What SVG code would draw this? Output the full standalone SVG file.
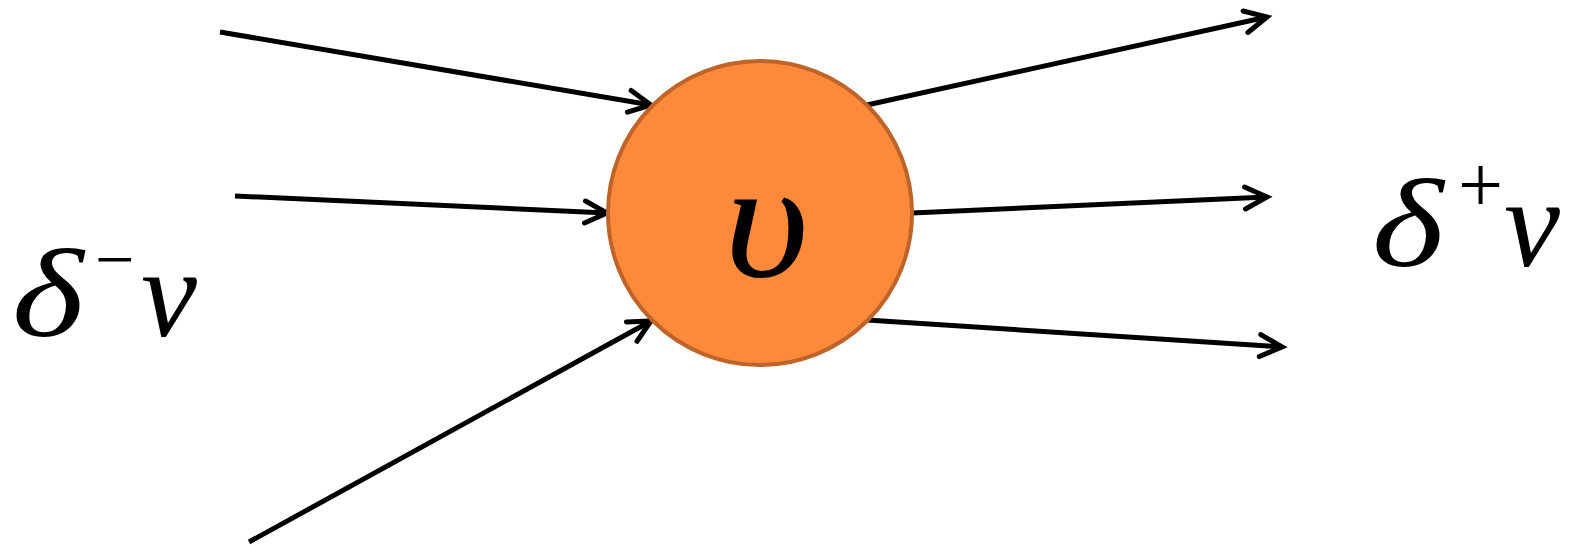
<svg xmlns="http://www.w3.org/2000/svg" width="1576" height="546" viewBox="0 0 1576 546">
<style>
.edge{stroke:#000;stroke-width:5;fill:none;stroke-linecap:butt}
.lbl{font-family:"Liberation Serif","Times New Roman",serif;font-style:italic;fill:#000}
.sup{font-family:"Liberation Serif","Times New Roman",serif;fill:#000}
</style>
<defs>
<marker id="arr" markerUnits="userSpaceOnUse" markerWidth="34" markerHeight="34" viewBox="-28 -17 34 34" refX="0" refY="0" orient="auto">
<path d="M-22,-11 L0,0 L-22,11" fill="none" stroke="#000" stroke-width="5" stroke-linecap="round" stroke-linejoin="miter"/>
</marker>
</defs>
<g id="edges">
<line class="edge" x1="220" y1="32" x2="651" y2="105" marker-end="url(#arr)"/>
<line class="edge" x1="235" y1="196" x2="607" y2="213" marker-end="url(#arr)"/>
<line class="edge" x1="249" y1="542" x2="651" y2="321" marker-end="url(#arr)"/>
<line class="edge" x1="867" y1="105" x2="1267" y2="17" marker-end="url(#arr)"/>
<line class="edge" x1="912" y1="213" x2="1267" y2="197" marker-end="url(#arr)"/>
<line class="edge" x1="867" y1="320" x2="1282" y2="347" marker-end="url(#arr)"/>
</g>
<g id="node-v">
<circle cx="760" cy="213" r="152" fill="#FD8A3A" stroke="#BF6329" stroke-width="4"/>
<text class="lbl" transform="translate(724,276) scale(1.1,1)" x="0" y="0" font-size="168">υ</text>
</g>
<g id="label-in">
<text class="lbl" transform="translate(12,336) scale(1.22,1)" x="0" y="0" font-size="126">δ</text>
<text class="sup" x="95" y="283" font-size="70">−</text>
<text class="lbl" x="141" y="336" font-size="126">ν</text>
</g>
<g id="label-out">
<text class="lbl" transform="translate(1372,266) scale(1.22,1)" x="0" y="0" font-size="126">δ</text>
<text class="sup" x="1458" y="212" font-size="80">+</text>
<text class="lbl" x="1504" y="266" font-size="126">ν</text>
</g>
</svg>
